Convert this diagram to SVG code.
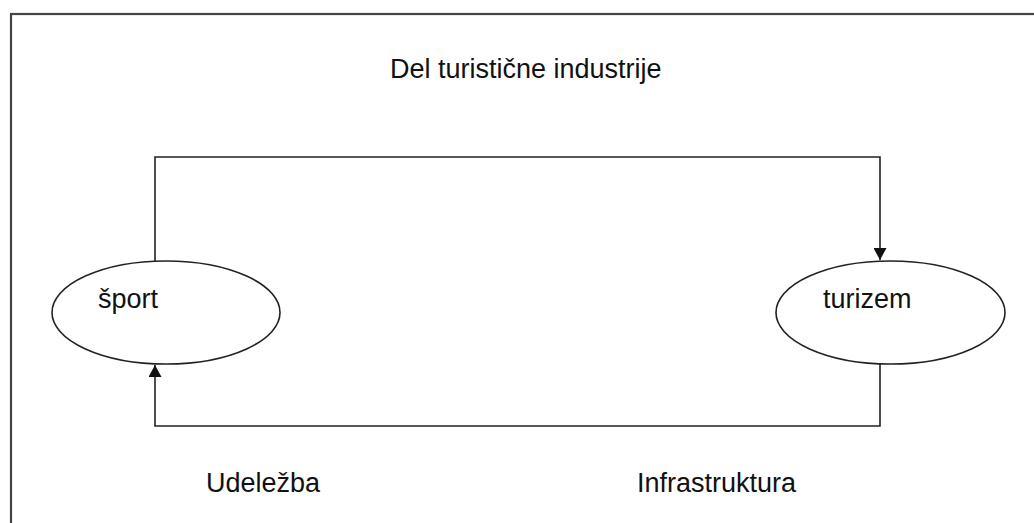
<svg xmlns="http://www.w3.org/2000/svg" width="1034" height="523" viewBox="0 0 1034 523">
<style>
.t{font-family:"Liberation Sans",Arial,sans-serif;font-size:27px;fill:#111}
.n{fill:#fff;stroke:#222;stroke-width:1.6}
.c{fill:none;stroke:#222;stroke-width:1.6}
</style>
<defs>
<marker id="ah" markerWidth="12" markerHeight="13" refX="12" refY="6.5" orient="auto" markerUnits="userSpaceOnUse">
<path d="M0,0 L12,6.5 L0,13 Z" fill="#111"/>
</marker>
</defs>
<rect width="1034" height="523" fill="#fff"/>
<rect x="11" y="14" width="1040" height="530" fill="none" stroke="#444" stroke-width="2.2"/>
<text class="t" x="390" y="78">Del turistične industrije</text>
<g id="connectors">
<path class="c" d="M155,261 V157 H880 V260" marker-end="url(#ah)"/>
<path class="c" d="M880,364 V426 H155 V365" marker-end="url(#ah)"/>
</g>
<g id="sport">
<ellipse class="n" cx="166" cy="312.5" rx="114" ry="51.5"/>
<text class="t" x="98" y="308">šport</text>
</g>
<g id="turizem">
<ellipse class="n" cx="890.5" cy="312.5" rx="114.5" ry="51.5"/>
<text class="t" x="823" y="308">turizem</text>
</g>
<text class="t" x="206" y="492">Udeležba</text>
<text class="t" x="637" y="492">Infrastruktura</text>
</svg>
